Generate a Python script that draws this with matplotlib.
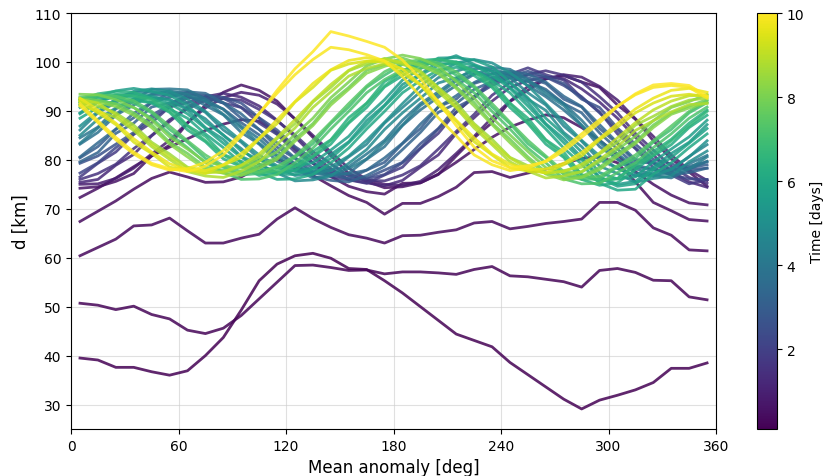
import numpy as np
import matplotlib
matplotlib.use("Agg")
import matplotlib.pyplot as plt
from matplotlib.colors import Normalize
from matplotlib.cm import ScalarMappable

# mean anomaly sample points [deg]
anomaly = np.arange(5, 360, 10)

# snapshot times [days]
early_times = [0.1, 0.2, 0.3, 0.4, 0.5]
band_times = [0.6, 0.9, 1.2, 1.5, 1.8, 2.2, 2.6, 3.0, 3.2, 3.4, 3.8, 4.0, 4.2, 4.6, 4.8, 5.0, 5.4, 5.6,
              5.8, 6.0, 6.2, 6.4, 6.6, 7.0, 7.2, 7.4, 7.8, 8.0, 8.2, 8.6, 8.8, 9.0, 9.4, 9.7, 9.9, 10.0]

# separation distance [km], one row per snapshot
d_early = [
    [39.5, 39.1, 37.6, 37.6, 36.7, 36.0, 36.9, 40.0, 43.7, 49.3, 55.3, 58.7, 60.4, 60.9, 59.9, 57.8, 57.6, 55.3,
     52.8, 50.0, 47.2, 44.4, 43.1, 41.8, 38.6, 36.1, 33.6, 31.1, 29.1, 30.9, 31.9, 33.0, 34.5, 37.4, 37.4, 38.5],
    [50.7, 50.3, 49.4, 50.1, 48.4, 47.5, 45.2, 44.5, 45.6, 48.2, 51.6, 55.0, 58.4, 58.5, 58.0, 57.4, 57.5, 56.7,
     57.1, 57.1, 56.9, 56.6, 57.6, 58.2, 56.3, 56.1, 55.6, 55.1, 54.0, 57.4, 57.8, 57.0, 55.4, 55.3, 52.0, 51.4],
    [60.4, 62.1, 63.8, 66.5, 66.7, 68.1, 65.5, 63.0, 63.0, 64.0, 64.8, 67.9, 70.2, 68.0, 66.2, 64.7, 64.0, 63.0,
     64.5, 64.6, 65.2, 65.7, 67.1, 67.4, 65.9, 66.4, 67.0, 67.4, 67.9, 71.3, 71.3, 69.7, 66.1, 64.6, 61.6, 61.4],
    [67.4, 69.5, 71.6, 74.0, 76.2, 77.5, 76.5, 75.4, 75.5, 76.5, 78.5, 80.2, 78.8, 76.8, 74.7, 72.7, 71.3, 68.9,
     71.1, 71.1, 72.5, 74.4, 77.4, 77.6, 76.4, 77.3, 78.1, 79.2, 80.3, 80.6, 79.4, 75.5, 71.3, 69.6, 67.8, 67.5],
    [72.3, 74.2, 76.3, 78.6, 80.8, 82.6, 84.3, 86.0, 87.3, 88.2, 87.9, 85.6, 82.2, 79.3, 76.6, 74.6, 73.5, 73.0,
     75.2, 75.3, 77.1, 79.5, 82.1, 84.6, 86.7, 88.1, 89.2, 88.6, 86.6, 84.0, 81.0, 77.6, 75.0, 72.8, 71.2, 70.8],
]

d_band = [
    # t = 0.6
    [74.2, 74.5, 75.6, 77.2, 80.8, 83.0, 87.5, 91.2, 93.8, 95.3, 94.2, 92.0, 88.3, 84.6, 80.9, 77.2, 75.6, 74.3,
     74.5, 75.3, 77.0, 80.8, 84.5, 87.6, 91.9, 94.2, 96.6, 97.2, 95.9, 94.8, 91.2, 88.3, 83.9, 80.2, 77.5, 74.6],
    # t = 0.9
    [75.0, 75.1, 76.2, 78.3, 81.2, 84.0, 87.6, 90.6, 92.7, 93.8, 93.2, 91.4, 88.4, 85.0, 81.6, 78.3, 76.0, 75.0,
     74.8, 75.6, 78.0, 81.3, 84.8, 88.6, 92.0, 95.0, 96.5, 97.4, 96.9, 95.0, 92.2, 88.4, 84.8, 81.0, 77.9, 75.8],
    # t = 1.2
    [75.4, 76.0, 78.9, 81.1, 84.9, 87.8, 90.8, 92.9, 93.6, 92.8, 91.0, 88.1, 84.7, 81.0, 78.2, 76.0, 75.3, 74.7,
     75.8, 78.5, 81.0, 85.4, 88.6, 92.0, 94.8, 96.2, 96.9, 96.6, 94.5, 91.8, 88.5, 84.6, 81.0, 77.6, 75.5, 74.4],
    # t = 1.5
    [76.0, 77.2, 79.1, 82.3, 85.0, 88.2, 90.4, 92.2, 92.5, 92.2, 90.3, 88.0, 85.1, 81.7, 79.2, 76.7, 75.8, 75.7,
     76.9, 78.8, 82.2, 85.8, 89.3, 93.2, 95.8, 97.5, 98.2, 97.3, 95.9, 92.9, 89.6, 85.4, 82.0, 78.7, 76.4, 75.2],
    # t = 1.8
    [76.5, 79.3, 81.6, 85.2, 87.6, 90.8, 91.7, 92.9, 91.6, 90.7, 87.5, 85.2, 81.6, 79.3, 76.5, 75.9, 75.2, 76.9,
     78.5, 82.3, 85.4, 89.8, 92.8, 96.3, 97.5, 98.8, 97.4, 96.3, 92.7, 89.8, 85.3, 82.3, 78.4, 76.9, 75.1, 75.9],
    # t = 2.2
    [77.3, 79.4, 82.5, 85.3, 88.5, 90.7, 92.6, 92.8, 92.6, 90.7, 88.5, 85.3, 82.5, 79.4, 77.4, 76.0, 76.1, 77.0,
     79.4, 82.4, 86.3, 89.7, 93.0, 95.2, 96.8, 97.4, 96.9, 95.2, 92.9, 89.6, 86.1, 82.4, 79.4, 77.0, 76.1, 76.0],
    # t = 2.6
    [79.3, 80.8, 83.2, 85.6, 89.1, 91.2, 93.3, 93.2, 92.8, 91.6, 88.6, 86.1, 82.7, 80.3, 77.6, 76.9, 76.3, 77.9,
     79.5, 83.3, 86.4, 90.7, 92.6, 95.8, 97.1, 98.1, 97.0, 95.6, 92.4, 90.7, 86.5, 83.2, 80.1, 79.2, 78.0, 78.3],
    # t = 3.0
    [80.4, 82.7, 86.2, 88.6, 91.7, 92.8, 93.8, 92.7, 91.6, 88.5, 86.2, 82.6, 80.3, 77.5, 76.9, 76.2, 77.9, 79.5,
     83.3, 86.4, 90.8, 92.4, 95.6, 96.8, 97.8, 96.8, 95.6, 92.4, 90.8, 86.4, 83.3, 79.6, 79.3, 77.8, 78.4, 79.0],
    # t = 3.2
    [79.6, 81.5, 85.4, 87.5, 90.8, 91.6, 92.9, 91.8, 90.4, 87.6, 85.1, 81.8, 79.2, 76.6, 75.8, 75.5, 76.8, 78.7,
     82.1, 85.6, 89.7, 91.5, 94.4, 96.0, 96.7, 96.0, 94.4, 91.5, 89.6, 85.5, 82.2, 78.9, 78.1, 77.0, 77.4, 78.3],
    # t = 3.4
    [80.6, 83.5, 86.3, 89.5, 91.8, 93.6, 93.9, 93.6, 91.7, 89.4, 86.2, 83.5, 80.4, 78.4, 77.0, 77.1, 77.9, 80.4,
     83.4, 87.3, 90.8, 93.1, 95.8, 97.6, 98.1, 97.5, 95.9, 93.0, 90.9, 87.2, 83.5, 80.1, 79.5, 78.2, 78.7, 79.6],
    # t = 3.8
    [83.2, 85.6, 89.1, 91.2, 93.3, 93.2, 93.2, 91.1, 89.2, 85.6, 83.2, 79.7, 78.1, 76.3, 76.8, 77.3, 80.1, 82.7,
     87.0, 90.2, 92.8, 95.2, 97.5, 97.6, 97.4, 95.2, 92.9, 90.2, 87.0, 82.7, 80.1, 77.3, 76.8, 76.3, 78.1, 79.7],
    # t = 4.0
    [84.5, 86.7, 90.4, 92.3, 94.4, 94.5, 94.3, 92.4, 90.3, 86.9, 84.3, 81.0, 79.2, 77.6, 77.9, 78.6, 81.2, 84.0,
     88.1, 91.5, 93.9, 96.5, 98.6, 98.9, 98.5, 96.4, 94.0, 91.5, 88.1, 84.0, 81.2, 78.5, 77.9, 77.6, 79.2, 80.9],
    # t = 4.2
    [83.4, 86.5, 89.3, 92.0, 93.4, 94.1, 93.4, 92.0, 89.3, 86.5, 83.4, 80.6, 78.2, 77.2, 76.9, 78.2, 80.2, 83.6,
     87.1, 91.1, 93.4, 96.1, 97.6, 98.5, 97.6, 96.1, 93.4, 91.1, 87.1, 83.6, 80.2, 78.2, 76.9, 77.2, 78.2, 80.6],
    # t = 4.6
    [86.1, 89.6, 91.7, 93.8, 93.8, 93.7, 91.6, 89.7, 86.1, 83.6, 80.2, 78.5, 76.8, 77.2, 77.8, 80.6, 83.2, 87.5,
     90.7, 93.9, 96.8, 98.1, 99.2, 98.1, 96.8, 93.7, 91.2, 86.9, 83.8, 80.0, 78.3, 76.7, 77.3, 78.0, 80.7, 83.1],
    # t = 4.8
    [85.0, 88.3, 90.6, 92.5, 92.7, 92.4, 90.5, 88.4, 85.0, 82.3, 79.1, 77.3, 75.7, 75.9, 76.7, 79.3, 82.1, 86.2,
     89.6, 92.6, 95.7, 96.8, 98.1, 96.8, 95.7, 92.4, 90.1, 85.6, 82.7, 78.7, 77.2, 75.4, 76.2, 76.7, 79.6, 81.8],
    # t = 5.0
    [86.9, 89.9, 92.4, 94.0, 94.5, 94.0, 92.4, 89.9, 86.9, 83.9, 81.0, 78.8, 77.6, 77.5, 78.6, 80.8, 84.0, 87.7,
     91.5, 95.1, 97.8, 99.8, 100.5, 99.8, 97.8, 95.1, 91.5, 87.7, 84.0, 80.8, 78.2, 76.8, 76.6, 78.1, 80.6, 83.9],
    # t = 5.4
    [89.6, 92.0, 93.2, 93.5, 93.0, 92.1, 90.2, 86.6, 84.2, 80.7, 79.1, 77.3, 77.8, 78.3, 81.1, 83.7, 88.0, 91.2,
     95.4, 97.5, 100.1, 101.3, 99.5, 98.1, 94.8, 91.8, 87.4, 84.3, 80.5, 76.5, 75.0, 75.6, 78.5, 81.3, 83.6, 87.2],
    # t = 5.6
    [90.7, 93.0, 94.1, 94.6, 94.0, 93.2, 91.1, 87.7, 85.1, 81.8, 80.0, 78.4, 78.7, 79.4, 82.0, 84.8, 88.9, 92.3,
     96.3, 98.6, 100.8, 100.9, 100.4, 99.0, 95.9, 92.7, 88.5, 85.2, 81.6, 77.4, 76.1, 76.5, 79.6, 82.2, 84.7, 88.1],
    # t = 5.8
    [89.4, 91.8, 93.0, 93.2, 92.6, 91.5, 89.4, 86.4, 83.4, 80.5, 78.3, 77.1, 77.0, 78.1, 80.3, 83.5, 87.2, 91.0,
     94.6, 97.3, 99.3, 100.0, 99.3, 97.3, 94.6, 91.0, 87.2, 83.5, 80.0, 76.3, 74.6, 75.1, 78.0, 80.5, 83.4, 86.4],
    # t = 6.0
    [88.5, 90.7, 92.1, 92.1, 91.7, 90.4, 88.5, 85.3, 82.5, 79.4, 77.4, 76.0, 76.1, 77.0, 79.4, 82.4, 86.3, 89.9,
     93.7, 96.2, 98.4, 98.9, 98.4, 96.2, 93.7, 89.9, 86.3, 82.4, 79.1, 75.2, 73.8, 74.0, 77.1, 79.4, 82.5, 85.3],
    # t = 6.2
    [91.2, 92.6, 93.1, 92.7, 91.6, 89.7, 86.1, 83.7, 80.2, 78.6, 76.8, 77.3, 77.8, 80.6, 83.2, 87.5, 90.7, 94.9,
     97.2, 99.6, 99.7, 99.5, 97.2, 94.8, 90.7, 87.4, 83.2, 80.5, 76.0, 74.8, 75.3, 78.0, 80.8, 83.1, 86.6, 89.1],
    # t = 6.4
    [92.2, 93.5, 94.0, 93.8, 92.5, 90.8, 87.0, 84.8, 81.1, 79.7, 77.7, 78.4, 78.7, 81.7, 84.1, 88.6, 91.6, 96.0,
     98.1, 100.3, 100.6, 100.0, 98.1, 95.9, 91.6, 88.5, 84.1, 81.6, 76.9, 75.9, 76.2, 79.1, 81.7, 84.2, 87.5, 90.2],
    # t = 6.6
    [91.6, 93.0, 93.4, 93.1, 92.2, 89.9, 86.9, 83.9, 81.0, 78.8, 77.6, 77.5, 78.6, 80.8, 84.0, 87.7, 91.5, 95.1,
     98.0, 99.8, 100.5, 99.8, 98.0, 95.1, 91.5, 87.7, 84.0, 80.8, 77.0, 75.6, 76.1, 78.8, 81.0, 83.9, 86.9, 89.9],
    # t = 7.0
    [92.5, 93.0, 92.6, 91.6, 89.6, 86.2, 83.6, 80.3, 78.5, 76.9, 77.2, 77.9, 80.5, 83.3, 87.4, 90.8, 94.8, 97.3,
     99.5, 99.8, 99.5, 97.3, 94.8, 90.8, 87.4, 83.3, 80.5, 77.0, 76.0, 76.1, 78.5, 80.3, 83.6, 86.2, 89.6, 91.7],
    # t = 7.2
    [91.6, 92.1, 91.5, 90.7, 88.5, 85.3, 82.5, 79.4, 77.4, 76.0, 76.1, 77.0, 79.4, 82.4, 86.3, 89.9, 93.7, 96.4,
     98.4, 98.9, 98.4, 96.4, 93.7, 89.9, 86.3, 82.4, 79.4, 76.1, 75.1, 75.2, 77.4, 79.4, 82.5, 85.3, 88.5, 90.8],
    # t = 7.4
    [92.8, 93.3, 93.0, 92.1, 89.9, 86.9, 83.9, 81.0, 78.8, 77.6, 77.5, 78.6, 80.8, 84.0, 87.7, 91.5, 95.1, 98.0,
     99.8, 100.5, 99.8, 98.0, 95.1, 91.5, 87.7, 84.0, 80.8, 77.6, 76.5, 76.6, 78.8, 81.0, 83.9, 86.9, 89.9, 92.1],
    # t = 7.8
    [92.5, 92.2, 91.4, 89.6, 87.2, 83.6, 81.3, 78.5, 77.9, 77.2, 78.9, 80.5, 84.3, 87.4, 91.8, 94.8, 98.3, 99.5,
     100.8, 99.6, 98.2, 94.9, 91.7, 87.5, 84.2, 80.6, 77.5, 76.3, 76.6, 78.5, 81.2, 83.7, 87.1, 89.6, 91.0, 92.3],
    # t = 8.0
    [93.4, 93.3, 92.3, 90.7, 88.1, 84.7, 82.2, 79.6, 78.8, 78.3, 79.8, 81.6, 85.2, 88.5, 92.7, 95.9, 99.2, 100.6,
     101.4, 100.7, 99.1, 96.0, 92.6, 88.6, 85.1, 81.7, 78.4, 77.4, 77.5, 79.6, 82.1, 84.8, 88.0, 90.7, 91.9, 93.4],
    # t = 8.2
    [92.0, 91.8, 90.9, 89.1, 86.6, 83.2, 80.6, 78.1, 77.3, 76.8, 78.3, 80.1, 83.8, 87.0, 91.2, 94.4, 97.7, 99.1,
     100.2, 99.3, 97.6, 94.6, 91.0, 87.2, 83.5, 80.1, 77.1, 75.9, 76.4, 78.0, 80.7, 83.3, 86.6, 89.3, 90.6, 91.7],
    # t = 8.6
    [92.1, 91.0, 89.6, 87.1, 83.6, 81.2, 78.5, 77.8, 77.3, 78.8, 80.5, 84.3, 87.4, 91.8, 94.8, 98.2, 99.6, 100.7,
     99.5, 98.2, 94.8, 91.7, 87.4, 84.2, 80.5, 78.8, 77.2, 77.8, 78.5, 81.2, 83.6, 87.1, 88.9, 90.9, 92.2, 92.6],
    # t = 8.8
    [91.2, 89.9, 88.7, 86.0, 82.7, 80.1, 77.6, 76.7, 76.4, 77.7, 79.6, 83.2, 86.5, 90.7, 93.9, 97.1, 98.7, 99.6,
     98.6, 97.1, 93.9, 90.6, 86.5, 83.1, 79.6, 77.7, 76.3, 76.7, 77.6, 80.1, 82.7, 86.0, 88.0, 89.8, 91.3, 91.5],
    # t = 9.0
    [92.4, 91.6, 89.2, 86.5, 83.2, 80.6, 78.3, 77.3, 77.6, 78.9, 81.2, 84.6, 88.2, 92.0, 95.4, 98.3, 100.1, 100.6,
     99.9, 97.8, 94.6, 90.9, 87.1, 83.5, 80.4, 78.2, 77.3, 77.6, 79.1, 81.4, 84.5, 87.6, 90.2, 92.0, 93.1, 93.2],
    # t = 9.4
    [92.0, 89.6, 87.2, 83.6, 81.3, 78.5, 77.9, 77.2, 78.9, 80.5, 84.3, 87.4, 91.8, 94.8, 98.3, 99.6, 100.2, 99.9,
     97.7, 95.3, 91.2, 87.9, 83.7, 81.0, 78.4, 77.7, 77.4, 79.0, 80.8, 84.1, 86.7, 89.6, 91.6, 93.0, 93.4, 92.9],
    # t = 9.7
    [92.6, 90.2, 87.5, 84.3, 81.6, 79.2, 78.0, 77.8, 79.0, 81.3, 84.4, 88.2, 91.9, 95.6, 98.4, 100.3, 100.9, 100.2,
     98.5, 95.4, 92.0, 88.1, 84.5, 81.2, 79.1, 78.0, 78.1, 79.3, 81.5, 84.4, 87.4, 90.4, 92.6, 94.2, 94.6, 93.8],
    # t = 9.9
    [91.0, 87.6, 84.1, 81.2, 79.0, 77.9, 78.2, 79.5, 81.9, 85.4, 89.5, 93.6, 97.4, 100.5, 103.0, 102.5, 101.5, 100.2,
     97.0, 93.0, 88.6, 84.9, 81.0, 79.0, 77.8, 78.3, 79.8, 82.4, 85.3, 88.2, 91.0, 93.3, 94.8, 95.2, 94.8, 92.6],
    # t = 10.0
    [91.5, 88.0, 84.6, 81.6, 79.3, 78.2, 77.6, 78.7, 81.0, 84.9, 89.4, 94.2, 98.6, 102.1, 106.2, 105.3, 104.2, 103.0,
     100.4, 96.6, 91.8, 87.0, 82.6, 79.8, 78.4, 78.8, 79.6, 81.8, 84.6, 87.6, 90.9, 93.5, 95.3, 95.6, 95.2, 93.0],
]

times = early_times + band_times
distances = d_early + d_band

fig = plt.figure(figsize=(8.23, 4.77), dpi=100)
ax = fig.add_axes([0.0863, 0.0985, 0.7837, 0.8721])
cax = fig.add_axes([0.920, 0.0985, 0.024, 0.8721])

cmap = plt.get_cmap("viridis")
norm = Normalize(vmin=0.1, vmax=10.0)

# later snapshots drawn on top
for t, d in sorted(zip(times, distances), key=lambda p: p[0]):
    ax.plot(anomaly, d, color=cmap(norm(t)), lw=2.0, alpha=0.85)

ax.set_xlim(0, 360)
ax.set_ylim(25, 110)
ax.set_xticks(np.arange(0, 361, 60))
ax.set_yticks(np.arange(30, 111, 10))
ax.grid(True, color="#cccccc", alpha=0.6, lw=0.8)
ax.set_axisbelow(True)
ax.tick_params(labelsize=10)
ax.set_xlabel("Mean anomaly [deg]", fontsize=12)
ax.set_ylabel("d [km]", fontsize=12)

sm = ScalarMappable(norm=norm, cmap=cmap)
cb = fig.colorbar(sm, cax=cax)
cb.set_ticks([2, 4, 6, 8, 10])
cb.set_label("Time [days]", fontsize=10)
cb.ax.tick_params(labelsize=10)

fig.savefig("out.png", dpi=100)
